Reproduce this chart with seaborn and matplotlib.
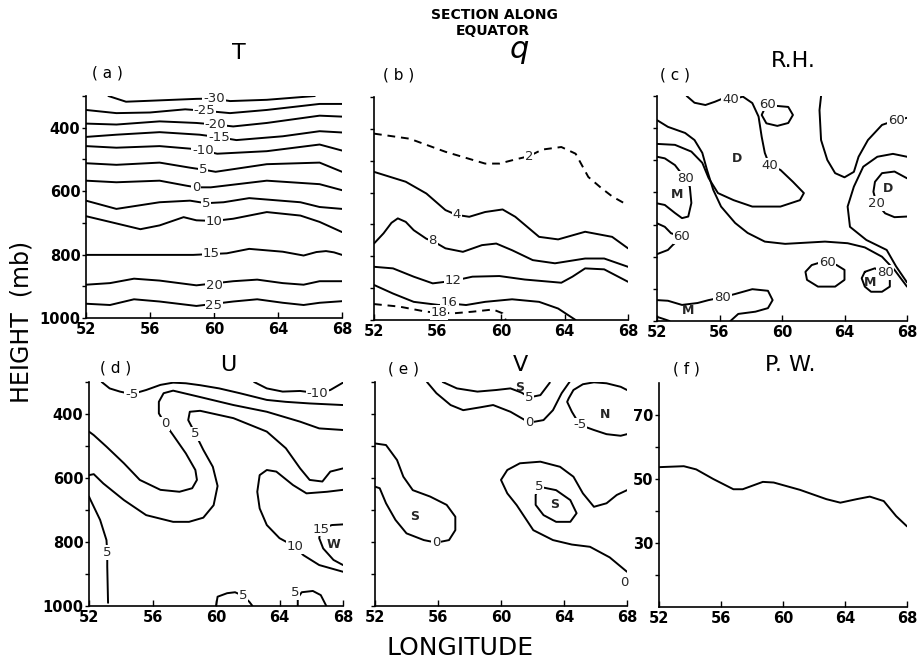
import numpy as np
import pandas as pd
import matplotlib
matplotlib.use("Agg")
import matplotlib.pyplot as plt
import seaborn as sns

# contour lines, points are (longitude, pressure mb)

# (a) temperature
t_m30 = [(53.4, 300), (54.5, 318), (56.0, 315), (58.9, 309), (60.0, 308), (61.0, 316), (63.3, 312), (66.3, 300)]
t_m25 = [(52, 344), (53.9, 354), (56.0, 352), (58.2, 342), (59.3, 346), (61.0, 354), (63.3, 344), (66.6, 325), (68, 325)]
t_m20 = [(52, 387), (53.9, 390), (56.6, 380), (58.9, 385), (60.1, 390), (61.2, 396), (63.3, 385), (66.6, 362), (68, 365)]
t_m15 = [(52, 429), (53.9, 422), (56.6, 414), (59.1, 422), (60.3, 430), (61.4, 439), (64.3, 427), (66.6, 411), (68, 415)]
t_m10 = [(52, 458), (53.9, 463), (56.6, 458), (58.5, 466), (59.3, 472), (60.2, 482), (63.3, 474), (66.6, 453), (68, 472)]
t_m05 = [(52, 512), (53.9, 517), (56.6, 510), (58.5, 526), (59.3, 532), (60.1, 539), (63.3, 515), (66.6, 510), (68, 539)]
t_00 = [(52, 567), (53.9, 572), (56.6, 567), (58.3, 583), (58.9, 588), (59.8, 588), (63.3, 567), (66.6, 578), (68, 597)]
t_05 = [(52, 630), (53.9, 656), (56.6, 635), (58.5, 630), (59.5, 638), (60.6, 635), (62.2, 622), (65.4, 635), (66.6, 650), (68, 656)]
t_10 = [(52, 679), (53.5, 697), (55.4, 720), (56.6, 708), (58.1, 682), (58.9, 692), (60.0, 694), (61.2, 687),
        (63.3, 666), (65.4, 677), (66.6, 697), (68, 729)]
t_15 = [(52, 801), (58.7, 801), (60.8, 796), (62.2, 782), (64.3, 791), (65.6, 803), (66.4, 792), (67.0, 789),
        (67.5, 793), (68, 801)]
t_20 = [(52, 895), (53.5, 890), (55.0, 876), (56.6, 882), (58.9, 897), (61.2, 884), (62.7, 879), (64.3, 890),
        (65.6, 895), (66.6, 884), (68, 884)]
t_25 = [(52, 955), (53.5, 959), (55.0, 941), (56.6, 948), (58.9, 962), (61.2, 948), (62.7, 941), (64.3, 952),
        (65.6, 959), (66.6, 952), (68, 947)]
t_labels = [("-30", 60.0, 309), ("-25", 59.4, 346), ("-20", 60.1, 390), ("-15", 60.3, 430), ("-10", 59.3, 472),
            ("5", 59.3, 532), ("0", 58.9, 588), ("5", 59.5, 640), ("10", 60.0, 695), ("15", 59.8, 798),
            ("20", 60.0, 896), ("25", 60.0, 960)]

# (b) specific humidity
q_02 = [(52, 415), (54.25, 431), (56.5, 472), (59.0, 509), (59.9, 509), (60.9, 496), (61.75, 486), (62.6, 465),
        (63.8, 457), (64.7, 478), (65.5, 551), (66.3, 585), (67.0, 612), (68, 640)]
q_04 = [(52, 535), (54.0, 566), (55.3, 603), (56.5, 655), (57.2, 670), (58.0, 676), (59.0, 661), (60.1, 653),
        (60.9, 676), (62.4, 739), (63.6, 747), (65.3, 723), (67.0, 739), (68, 775)]
q_08 = [(52, 760), (52.6, 728), (53.1, 695), (53.5, 681), (54.0, 692), (54.5, 718), (55.3, 745), (55.7, 752), (56.5, 775),
        (57.6, 786), (58.8, 765), (59.7, 760), (60.7, 781), (62.0, 812), (63.4, 822), (65.3, 807), (66.5, 807), (68, 833)]
q_12 = [(52, 833), (53.2, 838), (54.5, 864), (55.7, 885), (57.0, 877), (58.2, 864), (59.9, 862), (61.5, 873),
        (63.8, 883), (64.5, 864), (65.3, 838), (66.5, 841), (68, 880)]
q_16 = [(52, 890), (53.2, 917), (54.5, 943), (56.1, 953), (56.75, 948), (57.8, 953), (59.0, 943), (60.7, 935),
        (62.4, 943), (63.6, 964), (64.7, 1000)]
q_18 = [(52, 950), (53.6, 958), (55.3, 974), (56.1, 977), (57.0, 979), (58.2, 974), (59.5, 967), (60.1, 979), (60.3, 1000)]
q_labels = [("2", 61.75, 486), ("4", 57.2, 670), ("8", 55.7, 752), ("12", 57.0, 877), ("16", 56.75, 945),
            ("18", 56.1, 977)]

# (c) relative humidity
rh_40 = [(53.9, 300), (54.4, 321), (55.1, 328), (55.7, 318), (56.1, 310), (56.7, 312), (57.5, 302), (58.1, 322),
         (58.5, 364), (58.7, 427), (58.9, 477), (59.2, 515), (59.9, 530), (60.7, 567), (61.4, 602), (61.15, 624),
         (59.9, 644), (58.1, 644), (56.9, 624), (55.9, 602), (55.3, 555), (54.9, 508), (54.2, 473), (53.15, 452),
         (52, 449)]
rh_60_long = [(52, 375), (52.7, 396), (53.8, 415), (54.4, 437), (54.9, 477), (55.2, 530), (55.6, 592), (56.1, 644),
              (57.0, 695), (57.8, 726), (58.9, 753), (60.2, 760), (62.75, 753), (64.2, 758), (65.3, 771),
              (66.4, 800), (67.2, 841), (68, 893)]
rh_80_left = [(52, 489), (52.5, 494), (53.15, 515), (53.8, 556), (54.1, 582), (54.2, 633), (54.0, 675), (53.6, 680),
              (53.15, 664), (52.5, 639), (52, 634)]
rh_60_left = [(52, 696), (52.5, 707), (52.9, 727), (53.6, 738), (53.0, 764), (52.7, 779), (52, 792)]
rh_80_bottom = [(52, 935), (52.7, 937), (53.6, 950), (54.6, 944), (55.3, 935), (56.2, 926), (57.0, 916), (58.1, 901),
                (59.1, 906), (59.4, 935), (59.1, 960), (58.3, 971), (57.2, 978), (56.7, 1000)]
rh_80_corner = [(52, 987), (52.5, 995), (52.8, 1000)]
rh_60_top = [(59.1, 325), (59.7, 331), (60.4, 334), (60.7, 359), (60.4, 384), (59.7, 393), (59.0, 385), (58.7, 359),
             (58.9, 338), (59.1, 325)]
rh_60_right = [(62.5, 300), (62.4, 344), (62.5, 437), (62.9, 499), (63.4, 540), (64.0, 553), (64.6, 536), (64.9, 489),
               (65.5, 437), (66.4, 390), (67.3, 375), (68, 368)]
rh_right = [(68, 489), (67.1, 480), (66.1, 489), (65.2, 520), (64.6, 582), (64.2, 644), (64.35, 707), (65.4, 748),
            (66.7, 779), (67.3, 830), (68, 880)]
rh_20 = [(68, 556), (67.2, 535), (66.4, 540), (65.95, 567), (65.85, 598), (66.05, 634), (66.6, 665), (67.2, 677), (68, 675)]
rh_60_loop = [(62.9, 817), (63.5, 826), (64.0, 841), (64.0, 872), (63.4, 893), (62.3, 893), (61.6, 872), (61.5, 847),
              (61.9, 826), (62.3, 820), (62.9, 817)]
rh_80_loop = [(65.3, 847), (65.95, 836), (66.5, 854), (66.9, 867), (66.9, 893), (66.4, 909), (65.7, 909), (65.3, 893),
              (65.1, 867), (65.3, 847)]
rh_labels = [("40", 56.7, 312), ("40", 59.2, 515), ("80", 53.8, 556), ("60", 53.6, 738), ("80", 56.2, 926),
             ("60", 59.1, 325), ("60", 67.3, 375), ("20", 66.05, 634), ("60", 62.9, 817), ("80", 66.6, 850)]
rh_marks = [("D", 57.1, 494), ("M", 53.3, 608), ("M", 54.0, 966), ("D", 66.8, 587), ("M", 65.65, 881)]

# (d) zonal wind U
u_m10 = [(62.4, 300), (63.2, 320), (64.2, 330), (65.3, 328), (66.4, 335), (67.2, 325), (68, 302)]
u_m05 = [(52.8, 300), (53.3, 320), (53.95, 330), (54.7, 338), (55.6, 325), (56.5, 309), (57.3, 302), (58.1, 304),
         (59.0, 310), (60.2, 320), (61.5, 335), (63.2, 356), (64.4, 362), (65.9, 367), (68, 372)]
u_00 = [(68, 450), (66.5, 445), (65.3, 424), (63.2, 393), (61.1, 372), (59.0, 347), (57.3, 327), (56.7, 335),
        (56.4, 362), (56.4, 398), (56.8, 431), (57.3, 466), (58.1, 523), (58.7, 575), (58.8, 606), (58.5, 632),
        (57.7, 643), (56.5, 637), (55.2, 606), (54.2, 554), (53.1, 502), (52.3, 466), (52, 455)]
u_05 = [(68, 570), (67.2, 580), (66.7, 611), (65.9, 606), (65.3, 570), (64.4, 507), (63.2, 455), (61.1, 413),
        (59.0, 390), (58.35, 393), (58.25, 419), (58.7, 462), (59.2, 512), (59.8, 565), (60.1, 625), (59.85, 685),
        (59.2, 724), (58.3, 737), (57.3, 737), (55.6, 716), (54.2, 669), (52.9, 617), (52.3, 588), (52, 591)]
u_10 = [(68, 637), (67.0, 643), (65.7, 648), (64.85, 622), (63.8, 580), (63.2, 575), (62.75, 591), (62.6, 643),
        (62.75, 695), (63.2, 747), (64.0, 788), (65.0, 815), (65.5, 841), (66.5, 872), (68, 893)]
u_15 = [(68, 745), (67.3, 747), (66.6, 760), (66.5, 788), (66.75, 820), (67.4, 856), (68, 872)]
u_05_left = [(52, 658), (52.1, 669), (52.7, 731), (53.1, 794), (53.15, 833), (53.15, 877), (53.2, 990)]
u_05_low1 = [(60.0, 1000), (60.1, 971), (60.7, 960), (61.2, 957), (61.7, 968), (62.1, 987), (62.3, 1000)]
u_05_low2 = [(65.15, 1000), (65.15, 975), (65.4, 957), (66.1, 953), (66.6, 966), (66.95, 1000)]
u_labels = [("-10", 66.4, 335), ("-5", 54.7, 340), ("0", 56.8, 431), ("5", 58.7, 462), ("10", 65.0, 815),
            ("15", 66.6, 760), ("5", 53.15, 833), ("5", 61.7, 968), ("5", 65.0, 958)]
u_marks = [("W", 67.4, 809)]

# (e) meridional wind V
v_00_top = [(55.3, 300), (55.9, 335), (56.8, 372), (57.6, 388), (58.7, 379), (59.5, 372), (60.6, 393), (61.8, 427),
            (62.7, 419), (63.3, 388), (63.85, 335), (64.35, 300)]
v_05_top = [(56.3, 300), (57.2, 320), (58.5, 330), (59.7, 325), (60.6, 320), (61.3, 333), (61.8, 348), (62.5, 341),
            (62.9, 315), (63.1, 302)]
v_m05 = [(68, 325), (67.6, 315), (66.7, 304), (65.9, 301), (65.2, 307), (64.6, 325), (64.3, 351), (64.2, 362),
         (64.5, 393), (65.0, 434), (65.9, 450), (66.7, 463), (67.6, 468), (68, 463)]
v_00_left = [(52, 492), (52.7, 497), (53.4, 544), (53.8, 596), (54.4, 638), (55.5, 658), (56.55, 684), (57.1, 721),
             (57.1, 763), (56.7, 794), (55.9, 802), (55.1, 794), (54.0, 773), (53.3, 731), (52.7, 679), (52.3, 632),
             (52, 627)]
v_00_right = [(68, 638), (67.35, 653), (66.7, 679), (65.9, 690), (65.2, 648), (64.6, 596), (63.75, 565), (62.5, 549),
              (61.2, 554), (60.4, 575), (60.0, 606), (60.4, 648), (61.0, 685), (62.05, 763), (63.3, 794), (64.5, 808),
              (65.65, 815), (66.9, 848), (68, 893)]
v_05_loop = [(62.4, 627), (63.5, 638), (64.4, 669), (64.8, 710), (64.4, 737), (63.5, 737), (62.7, 716), (62.2, 684),
             (62.2, 653), (62.4, 627)]
v_labels = [("0", 61.8, 427), ("5", 61.8, 348), ("-5", 65.0, 434), ("0", 55.9, 802), ("5", 62.4, 627), ("0", 67.85, 928)]
v_marks = [("S", 61.2, 318), ("N", 66.6, 401), ("S", 54.5, 721), ("S", 63.4, 684)]

# (f) precipitable water
pw_lon = [52.0, 53.6, 54.4, 55.5, 56.8, 57.4, 58.7, 59.4, 61.1, 62.8, 63.7, 64.75, 65.6, 66.5, 67.3, 68.0]
pw_val = [53.7, 54.0, 53.0, 50.0, 46.8, 46.8, 49.1, 48.9, 46.6, 43.7, 42.6, 43.7, 44.5, 43.1, 38.4, 35.2]

lon_ticks = [52, 56, 60, 64, 68]

sns.set_theme(style="ticks")
plt.rcParams["font.family"] = ["DejaVu Sans"]
plt.rcParams["axes.linewidth"] = 1.2

fig = plt.figure(figsize=(9.24, 6.66), dpi=100)


def make_ax(x0, y0, x1, y1):
    # pixel box of the reference -> figure fraction
    return fig.add_axes([x0 / 924, 1 - y1 / 666, (x1 - x0) / 924, (y1 - y0) / 666])


def draw(ax, pts, dashed=False):
    df = pd.DataFrame(pts, columns=["lon", "p"])
    sns.lineplot(data=df, x="lon", y="p", sort=False, estimator=None, color="black",
                 lw=1.4, linestyle=(0, (4, 3)) if dashed else "-", solid_joinstyle="round", ax=ax)


def labels(ax, items):
    for s, x, y in items:
        ax.text(x, y, s, ha="center", va="center", fontsize=9.5, zorder=5, clip_on=False,
                bbox=dict(boxstyle="square,pad=0.06", fc="white", ec="none"))


def marks(ax, items):
    for s, x, y in items:
        ax.text(x, y, s, ha="center", va="center", fontsize=9, fontweight="bold", zorder=6)


def setup(ax, ylab=True, pressure=True):
    ax.set_xlim(52, 68)
    ax.set_xticks(lon_ticks)
    if pressure:
        ax.set_ylim(1000, 300)
        if ylab:
            ax.set_yticks([400, 600, 800, 1000])
            ax.set_yticks([300, 500, 700, 900], minor=True)
        else:
            ax.set_yticks(range(300, 1001, 100))
            ax.set_yticklabels([])
    ax.set_xlabel("")
    ax.set_ylabel("")
    sns.despine(ax=ax)
    ax.tick_params(axis="x", direction="in", length=4, width=1, labelsize=10.5, pad=3, colors="black")
    ax.tick_params(axis="y", which="both", direction="out", length=3, width=1, labelsize=10.5, pad=1, colors="black")
    for t in ax.get_xticklabels() + ax.get_yticklabels():
        t.set_fontweight("bold")
    for sp in ax.spines.values():
        sp.set_color("black")


ax_a = make_ax(86, 96, 342, 318)
for c in [t_m30, t_m25, t_m20, t_m15, t_m10, t_m05, t_00, t_05, t_10, t_15, t_20, t_25]:
    draw(ax_a, c)
labels(ax_a, t_labels)
setup(ax_a)

ax_b = make_ax(374, 97, 628, 320)
draw(ax_b, q_02, dashed=True)
for c in [q_04, q_08, q_12, q_16]:
    draw(ax_b, c)
draw(ax_b, q_18, dashed=True)
labels(ax_b, q_labels)
setup(ax_b, ylab=False)

ax_c = make_ax(657, 96, 907, 321)
for c in [rh_40, rh_60_long, rh_80_left, rh_60_left, rh_80_bottom, rh_80_corner, rh_60_top, rh_60_right,
          rh_right, rh_20, rh_60_loop, rh_80_loop]:
    draw(ax_c, c)
labels(ax_c, rh_labels)
marks(ax_c, rh_marks)
setup(ax_c, ylab=False)

ax_d = make_ax(89, 382, 343, 606)
for c in [u_m10, u_m05, u_00, u_05, u_10, u_15, u_05_left, u_05_low1, u_05_low2]:
    draw(ax_d, c)
labels(ax_d, u_labels)
marks(ax_d, u_marks)
setup(ax_d)

ax_e = make_ax(375, 382, 627, 606)
for c in [v_00_top, v_05_top, v_m05, v_00_left, v_00_right, v_05_loop]:
    draw(ax_e, c)
labels(ax_e, v_labels)
marks(ax_e, v_marks)
setup(ax_e, ylab=False)

ax_f = make_ax(659, 383, 907, 607)
sns.lineplot(x=pw_lon, y=pw_val, sort=False, estimator=None, color="black", lw=1.4,
             solid_joinstyle="round", ax=ax_f)
ax_f.set_ylim(10, 80)
ax_f.set_yticks([30, 50, 70])
ax_f.set_yticks([20, 40, 60], minor=True)
setup(ax_f, pressure=False)


# titles and axis captions
def ftext(x, y, s, **kw):
    fig.text(x / 924, 1 - y / 666, s, ha="center", va="center", color="black", **kw)


ftext(494, 15, "SECTION ALONG", fontsize=10, fontweight="bold")
ftext(493, 31, "EQUATOR", fontsize=10, fontweight="bold")
ftext(519, 52, "$q$", fontsize=22)
ftext(107, 73, "( a )", fontsize=11)
ftext(239, 53, "T", fontsize=16)
ftext(399, 75, "( b )", fontsize=11)
ftext(675, 75, "( c )", fontsize=11)
ftext(793, 61, "R.H.", fontsize=16)
ftext(116, 368, "( d )", fontsize=11)
ftext(228, 365, "U", fontsize=16)
ftext(404, 369, "( e )", fontsize=11)
ftext(520, 365, "V", fontsize=16)
ftext(686, 369, "( f )", fontsize=11)
ftext(790, 365, "P. W.", fontsize=16)
ftext(22, 322, "HEIGHT  (mb)", fontsize=17, rotation=90)
ftext(460, 648, "LONGITUDE", fontsize=18)

fig.savefig("out.png", dpi=100, facecolor="white")
